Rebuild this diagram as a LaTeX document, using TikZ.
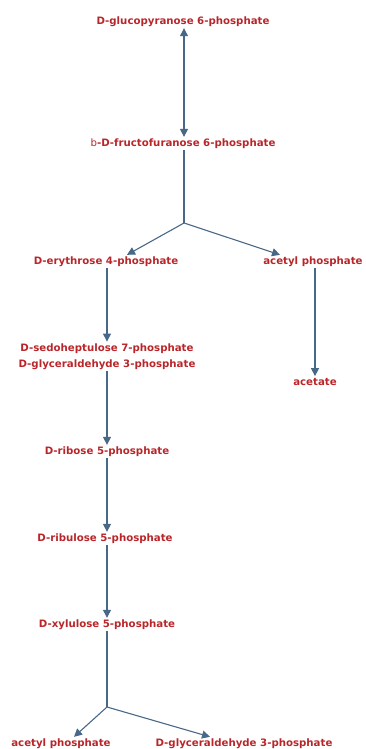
\documentclass[tikz,border=0pt]{standalone}
\usepackage{fontspec}
\setmainfont{DejaVu Sans}
\usetikzlibrary{arrows.meta,calc}
\definecolor{cpdred}{RGB}{185,38,42}
\definecolor{rxnblue}{RGB}{72,104,136}

\begin{document}
\begin{tikzpicture}[x=1pt,y=-1pt,>={Triangle[length=8pt,width=8pt]},
  cpd/.style={text=cpdred,font=\fontsize{10.2}{16.5}\selectfont\bfseries,inner sep=1.5pt,align=center,yshift=-1.5pt},
  rxn/.style={draw=rxnblue,line width=1.1pt}]
\useasboundingbox (0,0) rectangle (365,749);
% upper part
\node[cpd] (g6p) at (183,20) {D-glucopyranose 6-phosphate};
\node[cpd] (f6p) at (183,142) {{\mdseries b}-D-fructofuranose 6-phosphate};
\coordinate (split1) at (184,223);
\node[cpd] (e4p) at (106,260) {D-erythrose 4-phosphate};
\node[cpd] (acp1) at (313,260) {acetyl phosphate};
\node[cpd] (s7p) at (107,355) {D-sedoheptulose 7-phosphate\\D-glyceraldehyde 3-phosphate};
\node[cpd] (ac) at (315,380) {acetate};
% left column
\node[cpd] (r5p) at (107,450) {D-ribose 5-phosphate};
\node[cpd] (ru5p) at (105,537) {D-ribulose 5-phosphate};
\node[cpd] (x5p) at (107,623) {D-xylulose 5-phosphate};
\coordinate (split2) at (107,707);
\node[cpd] (acp2) at (61,742) {acetyl phosphate};
\node[cpd] (g3p) at (244,742) {D-glyceraldehyde 3-phosphate};
% reactions
\draw[rxn,<->] (g6p.south -| split1) -- (f6p.north -| split1);
\draw[rxn] (f6p.south -| split1) -- (split1);
\draw[rxn,->] (split1) -- ($(e4p.north)+(21,0)$);
\draw[rxn,->] (split1) -- ($(acp1.north)+(-33,0)$);
\draw[rxn,->] (e4p.south -| 107,0) -- (s7p.north -| 107,0);
\draw[rxn,->] (acp1.south -| 315,0) -- (ac.north -| 315,0);
\draw[rxn,->] (s7p.south -| 107,0) -- (r5p.north -| 107,0);
\draw[rxn,->] (r5p.south -| 107,0) -- (ru5p.north -| 107,0);
\draw[rxn,->] (ru5p.south -| 107,0) -- (x5p.north -| 107,0);
\draw[rxn] (x5p.south -| split2) -- (split2);
\draw[rxn,->] (split2) -- ($(acp2.north)+(13,0)$);
\draw[rxn,->] (split2) -- ($(g3p.north)+(-34,0)$);
\end{tikzpicture}
\end{document}
